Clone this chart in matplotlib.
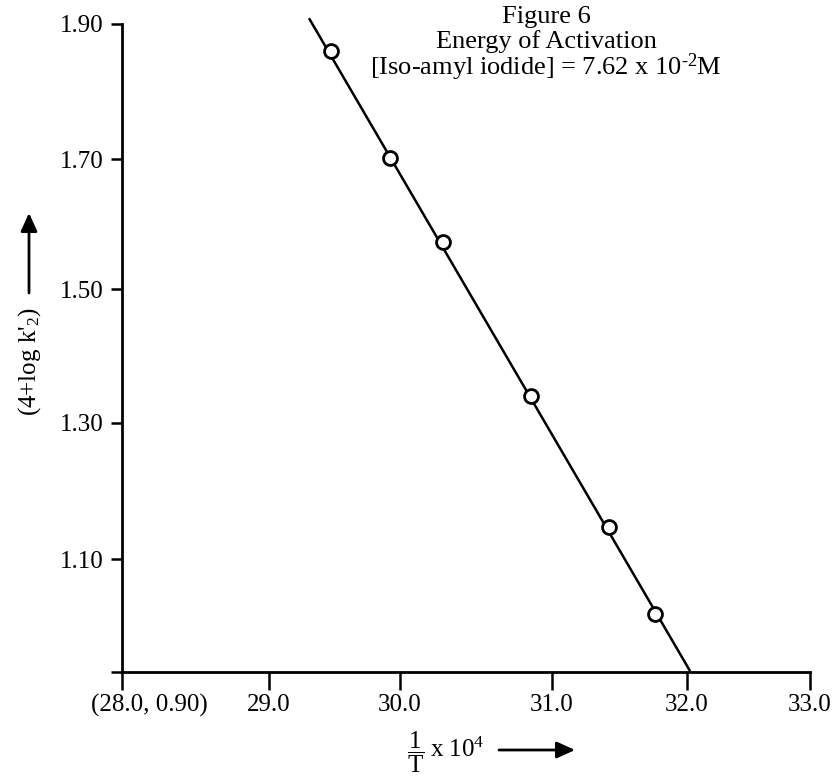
import numpy as np
import matplotlib
matplotlib.use("Agg")
import matplotlib.pyplot as plt

plt.rcParams["font.family"] = ["Liberation Serif", "DejaVu Serif"]
plt.rcParams["mathtext.fontset"] = "custom"
plt.rcParams["mathtext.rm"] = "Liberation Serif"
plt.rcParams["mathtext.it"] = "Liberation Serif:italic"
plt.rcParams["mathtext.default"] = "regular"

# measured rate data: 1/T x 10^4 against (4 + log k'2)
inv_T = [29.47, 29.92, 30.28, 30.86, 31.42, 31.76]
log_k = [1.860, 1.701, 1.573, 1.340, 1.147, 1.002]

# hand-drawn best fit line
fit_x = [29.31, 32.02]
fit_y = [1.907, 0.903]

x_ticks = [28.0, 29.0, 30.0, 31.0, 32.0, 33.0]
x_tick_labels = ["", "29.0", "30.0", "31.0", "32.0", "33.0"]
y_ticks = [0.90, 1.10, 1.30, 1.50, 1.70, 1.90]
y_tick_labels = ["", "1.10", "1.30", "1.50", "1.70", "1.90"]

# the grid of the original graph paper is not evenly ruled, so the axes use
# a piecewise scale through where each division was drawn
x_marks = [122, 269, 400, 552, 687, 810]
y_marks = [110.3, 223, 359.3, 492.7, 623, 758]


def piecewise(vals, pos):
    vals = np.asarray(vals, float)
    pos = np.asarray(pos, float)

    def interp(v, a, b):
        v = np.asarray(v, float)
        out = np.interp(v, a, b)
        lo_slope = (b[1] - b[0]) / (a[1] - a[0])
        hi_slope = (b[-1] - b[-2]) / (a[-1] - a[-2])
        out = np.where(v < a[0], b[0] + (v - a[0]) * lo_slope, out)
        out = np.where(v > a[-1], b[-1] + (v - a[-1]) * hi_slope, out)
        return out

    return (lambda v: interp(v, vals, pos)), (lambda v: interp(v, pos, vals))


W, H = 838, 782
fig = plt.figure(figsize=(W / 100, H / 100), dpi=100)
ax = fig.add_axes([x_marks[0] / W, y_marks[0] / H,
                   (x_marks[-1] - x_marks[0]) / W, (y_marks[-1] - y_marks[0]) / H])

ax.set_xscale("function", functions=piecewise(x_ticks, x_marks))
ax.set_yscale("function", functions=piecewise(y_ticks, y_marks))
ax.set_xlim(x_ticks[0], x_ticks[-1])
ax.set_ylim(y_ticks[0], y_ticks[-1])

ax.plot(fit_x, fit_y, color="black", lw=1.8, clip_on=False, zorder=2)
ax.plot(inv_T, log_k, linestyle="none", marker="o", ms=10, mew=2.0,
        mfc="white", mec="black", zorder=3)

for side in ("top", "right"):
    ax.spines[side].set_visible(False)
for side in ("left", "bottom"):
    ax.spines[side].set_linewidth(2.0)

ax.set_xticks(x_ticks)
ax.set_xticklabels(x_tick_labels)
ax.set_yticks(y_ticks)
ax.set_yticklabels(y_tick_labels)
ax.tick_params(axis="x", direction="out", length=13, width=1.8, pad=3, labelsize=18)
ax.tick_params(axis="y", direction="out", length=8, width=1.8, pad=5, labelsize=18)
ax.minorticks_off()

# origin label
ax.annotate("(28.0, 0.90)", xy=(x_ticks[0], y_ticks[0]), xytext=(86, -22),
            textcoords="offset pixels", ha="right", va="top", fontsize=18,
            annotation_clip=False)

# title block
fig.text(546 / W, 1 - 17 / H, "Figure 6", ha="center", va="center", fontsize=19)
fig.text(546 / W, 1 - 42 / H, "Energy of Activation", ha="center", va="center", fontsize=19)
fig.text(546 / W, 1 - 67 / H, r"[Iso-amyl iodide] = 7.62 x 10$^{\text{-}2}$M",
         ha="center", va="center", fontsize=19)

# axis labels with arrows
fig.text(416 / W, 1 - 752 / H, r"$\dfrac{1}{T}$", ha="center", va="center", fontsize=18)
fig.text(430 / W, 1 - 750 / H, "x 10$^{4}$", ha="left", va="center", fontsize=18)
ax.annotate("", xy=(575 / W, 1 - 750 / H), xytext=(499 / W, 1 - 750 / H),
            xycoords="figure fraction", textcoords="figure fraction",
            arrowprops=dict(arrowstyle="-|>,head_length=1.1,head_width=0.5",
                            color="black", lw=2.0, shrinkA=0, shrinkB=0))

fig.text(30 / W, 1 - 362 / H, "(4+log k'$_{2}$)", rotation=90,
         ha="center", va="center", fontsize=18)
ax.annotate("", xy=(29 / W, 1 - 213 / H), xytext=(29 / W, 1 - 293 / H),
            xycoords="figure fraction", textcoords="figure fraction",
            arrowprops=dict(arrowstyle="-|>,head_length=1.1,head_width=0.5",
                            color="black", lw=2.0, shrinkA=0, shrinkB=0))

fig.savefig("out.png", dpi=100)
